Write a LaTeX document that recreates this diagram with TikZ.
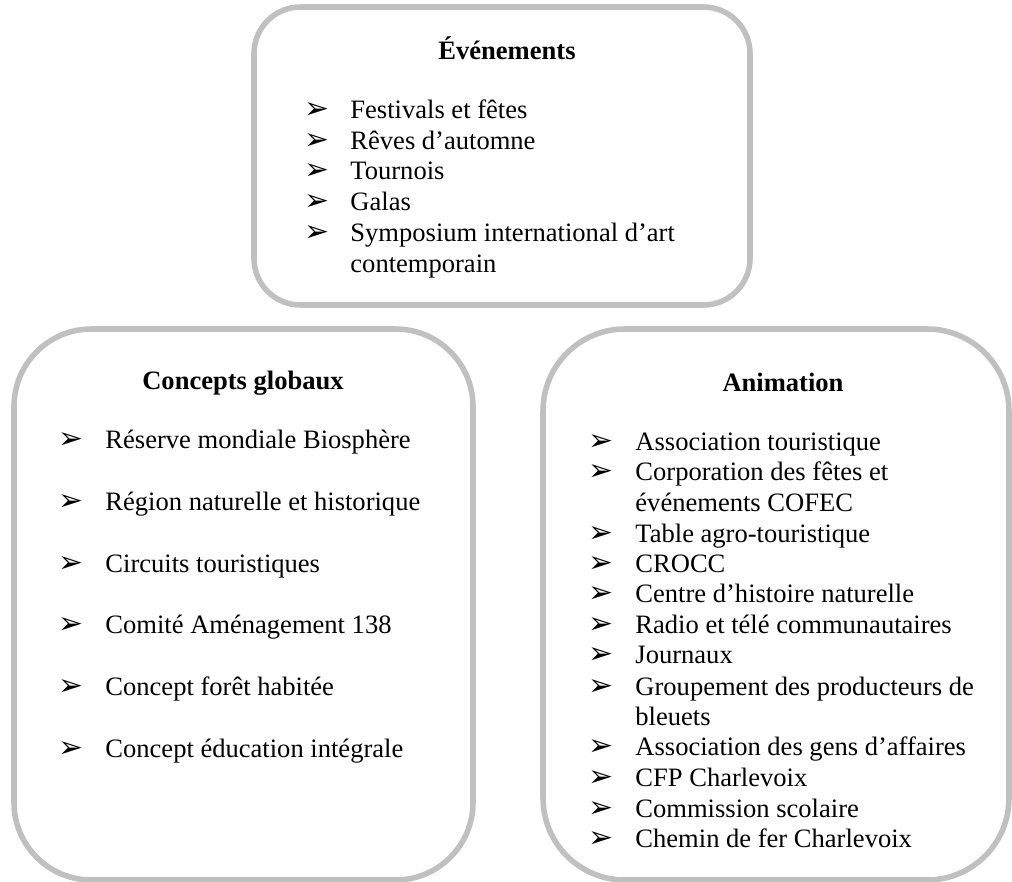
\documentclass[tikz,border=0pt]{standalone}
\usepackage{fontspec}
\setmainfont{Liberation Serif}
\newfontfamily\dingfont{DejaVu Sans}
\usetikzlibrary{fit}
\definecolor{panelgray}{RGB}{192,192,192}
\newcommand{\arrowbul}{{\dingfont\fontsize{13.5}{14}\selectfont ➢}}
\tikzset{
  panel/.style={draw=panelgray, line width=2.5pt, inner sep=0pt},
  ptitle/.style={anchor=base, inner sep=0pt, font=\fontsize{12}{13.8}\selectfont\bfseries},
  bul/.style={anchor=base west, inner sep=0pt},
  entry/.style={anchor=base west, inner sep=0pt, font=\fontsize{12}{13.8}\selectfont}
}
\begin{document}
\begin{tikzpicture}[x=0.452pt, y=-0.452pt]
\useasboundingbox (0,0) rectangle (1012,882);
% the three panels
\node[panel, rounded corners=21pt, fit={(254,7) (750,305)}] (evt) {};
\node[panel, rounded corners=35pt, fit={(14,329) (473,880)}] (glob) {};
\node[panel, rounded corners=37pt, fit={(543,329) (1009,880)}] (anim) {};
% Evenements
\node[ptitle] (evtt) at (507,60) {Événements};
\node[bul] (eb1) at (304,119) {\arrowbul};
\node[entry] (e1) at (350,119) {Festivals et fêtes};
\node[bul] (eb2) at (304,149) {\arrowbul};
\node[entry] (e2) at (350,149) {Rêves d’automne};
\node[bul] (eb3) at (304,180) {\arrowbul};
\node[entry] (e3) at (350,180) {Tournois};
\node[bul] (eb4) at (304,210) {\arrowbul};
\node[entry] (e4) at (350,210) {Galas};
\node[bul] (eb5) at (304,241) {\arrowbul};
\node[entry] (e5) at (350,241) {Symposium international d’art};
\node[entry] (e5b) at (350,272) {contemporain};
% Concepts globaux
\node[ptitle] (globt) at (243,389) {Concepts globaux};
\node[bul] (gb1) at (58,448) {\arrowbul};
\node[entry] (g1) at (105,448) {Réserve mondiale Biosphère};
\node[bul] (gb2) at (58,510) {\arrowbul};
\node[entry] (g2) at (105,510) {Région naturelle et historique};
\node[bul] (gb3) at (58,572) {\arrowbul};
\node[entry] (g3) at (105,572) {Circuits touristiques};
\node[bul] (gb4) at (58,633) {\arrowbul};
\node[entry] (g4) at (105,633) {Comité Aménagement 138};
\node[bul] (gb5) at (58,695) {\arrowbul};
\node[entry] (g5) at (105,695) {Concept forêt habitée};
\node[bul] (gb6) at (58,757) {\arrowbul};
\node[entry] (g6) at (105,757) {Concept éducation intégrale};
% Animation
\node[ptitle] (animt) at (783,391) {Animation};
\node[bul] (ab1) at (588,450) {\arrowbul};
\node[entry] (a1) at (635,450) {Association touristique};
\node[bul] (ab2) at (588,480) {\arrowbul};
\node[entry] (a2) at (635,480) {Corporation des fêtes et};
\node[entry] (a2b) at (635,511) {événements COFEC};
\node[bul] (ab3) at (588,542) {\arrowbul};
\node[entry] (a3) at (635,542) {Table agro-touristique};
\node[bul] (ab4) at (588,572) {\arrowbul};
\node[entry] (a4) at (635,572) {CROCC};
\node[bul] (ab5) at (588,602) {\arrowbul};
\node[entry] (a5) at (635,602) {Centre d’histoire naturelle};
\node[bul] (ab6) at (588,633) {\arrowbul};
\node[entry] (a6) at (635,633) {Radio et télé communautaires};
\node[bul] (ab7) at (588,663) {\arrowbul};
\node[entry] (a7) at (635,663) {Journaux};
\node[bul] (ab8) at (588,695) {\arrowbul};
\node[entry] (a8) at (635,695) {Groupement des producteurs de};
\node[entry] (a8b) at (635,725) {bleuets};
\node[bul] (ab9) at (588,755) {\arrowbul};
\node[entry] (a9) at (635,755) {Association des gens d’affaires};
\node[bul] (ab10) at (588,786) {\arrowbul};
\node[entry] (a10) at (635,786) {CFP Charlevoix};
\node[bul] (ab11) at (588,817) {\arrowbul};
\node[entry] (a11) at (635,817) {Commission scolaire};
\node[bul] (ab12) at (588,847) {\arrowbul};
\node[entry] (a12) at (635,847) {Chemin de fer Charlevoix};
\end{tikzpicture}
\end{document}
